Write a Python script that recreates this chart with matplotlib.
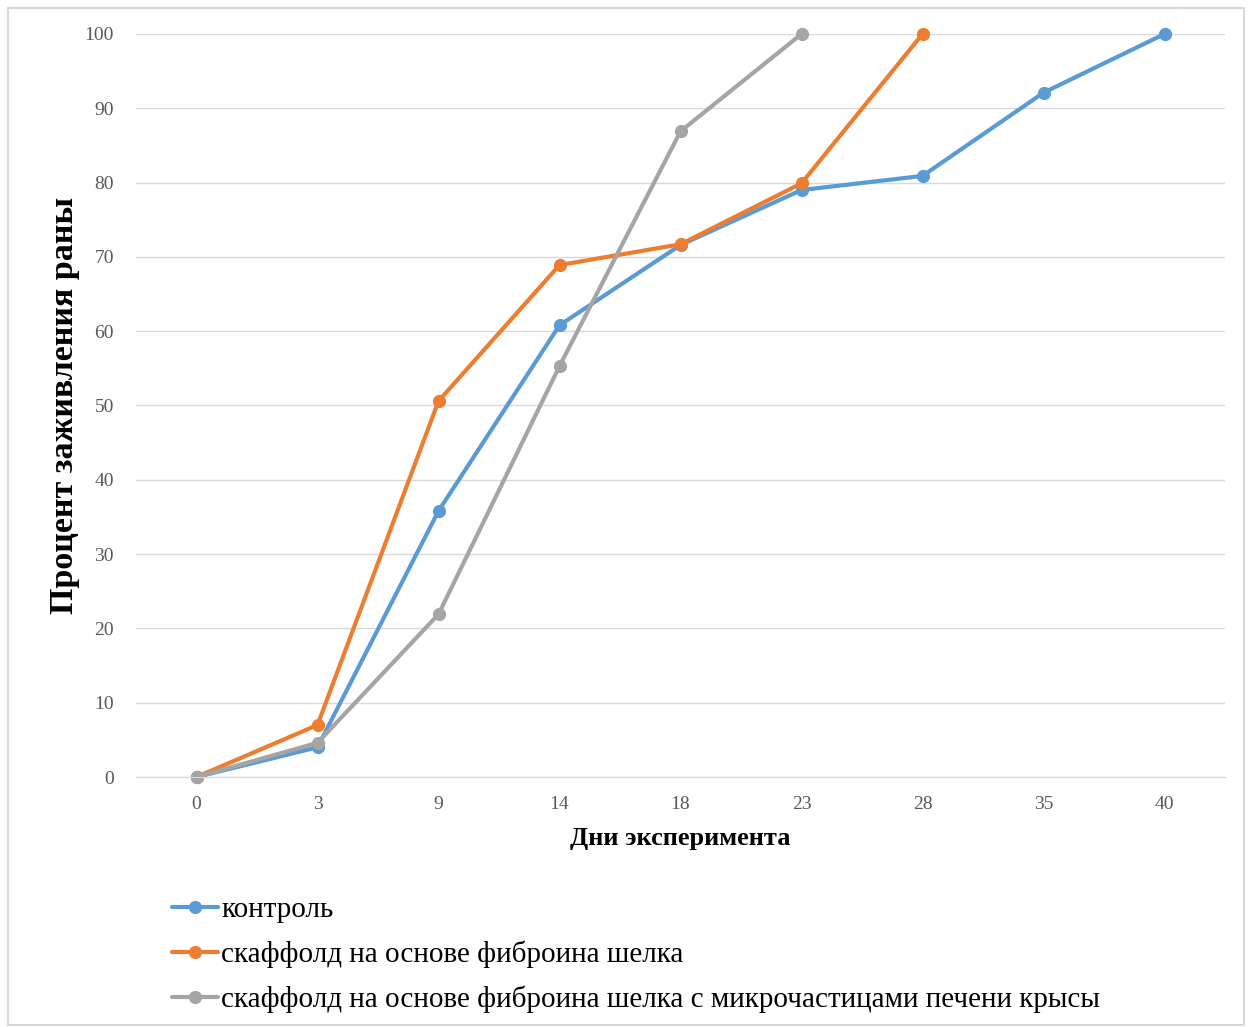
import numpy as np
import matplotlib
matplotlib.use('Agg')
import matplotlib.pyplot as plt
from matplotlib.patches import Rectangle

# Данные: дни эксперимента и процент заживления раны
days = ['0', '3', '9', '14', '18', '23', '28', '35', '40']
control = [0, 4.0, 35.8, 60.8, 71.6, 79.0, 80.9, 92.1, 100]
silk = [0, 7.0, 50.6, 68.9, 71.7, 79.9, 100]
silk_liver = [0, 4.6, 21.9, 55.3, 86.9, 100]

labels = ['контроль',
          'скаффолд на основе фиброина шелка',
          'скаффолд на основе фиброина шелка с микрочастицами печени крысы']
colors = ['#5B9BD5', '#ED7D31', '#A5A5A5']

plt.rcParams['font.family'] = ['Liberation Serif', 'DejaVu Serif']

fig = plt.figure(figsize=(12.5, 10.27), dpi=100)
ax = fig.add_axes([136 / 1250, 1 - 777 / 1027, (1225 - 136) / 1250, (777 - 34) / 1027])

x = np.arange(len(days))
for series, color, label in zip([control, silk, silk_liver], colors, labels):
    ax.plot(x[:len(series)], series, color=color, lw=3, marker='o', ms=8.5,
            label=label, solid_capstyle='round', clip_on=False)

ax.set_xlim(-0.5, len(days) - 0.5)
ax.set_ylim(0, 100)
ax.set_yticks(np.arange(0, 101, 10))
ax.set_xticks(x)
ax.set_xticklabels(days)
ax.tick_params(length=0, labelsize=14, labelcolor='#595959', pad=14)
ax.tick_params(axis='y', pad=16)
ax.grid(axis='y', color='#d9d9d9', lw=1)
ax.set_axisbelow(True)
for side in ['top', 'right', 'left']:
    ax.spines[side].set_visible(False)
ax.spines['bottom'].set_color('#d9d9d9')

ax.set_xlabel('Дни эксперимента', fontsize=19, fontweight='bold', labelpad=10)
ax.set_ylabel('Процент заживления раны', fontsize=24.5, fontweight='bold', labelpad=3)

fig.legend(loc='upper left', bbox_to_anchor=(157 / 1250, 1 - 882 / 1027),
           frameon=False, fontsize=21, handlelength=1.6, handletextpad=0.1,
           labelspacing=0.6, borderpad=0)

fig.patches.append(Rectangle((8 / 1250, 2 / 1027), 1236 / 1250, 1017 / 1027,
                             transform=fig.transFigure, fill=False,
                             edgecolor='#d9d9d9', lw=1.5))

fig.savefig('out.png', dpi=100)
